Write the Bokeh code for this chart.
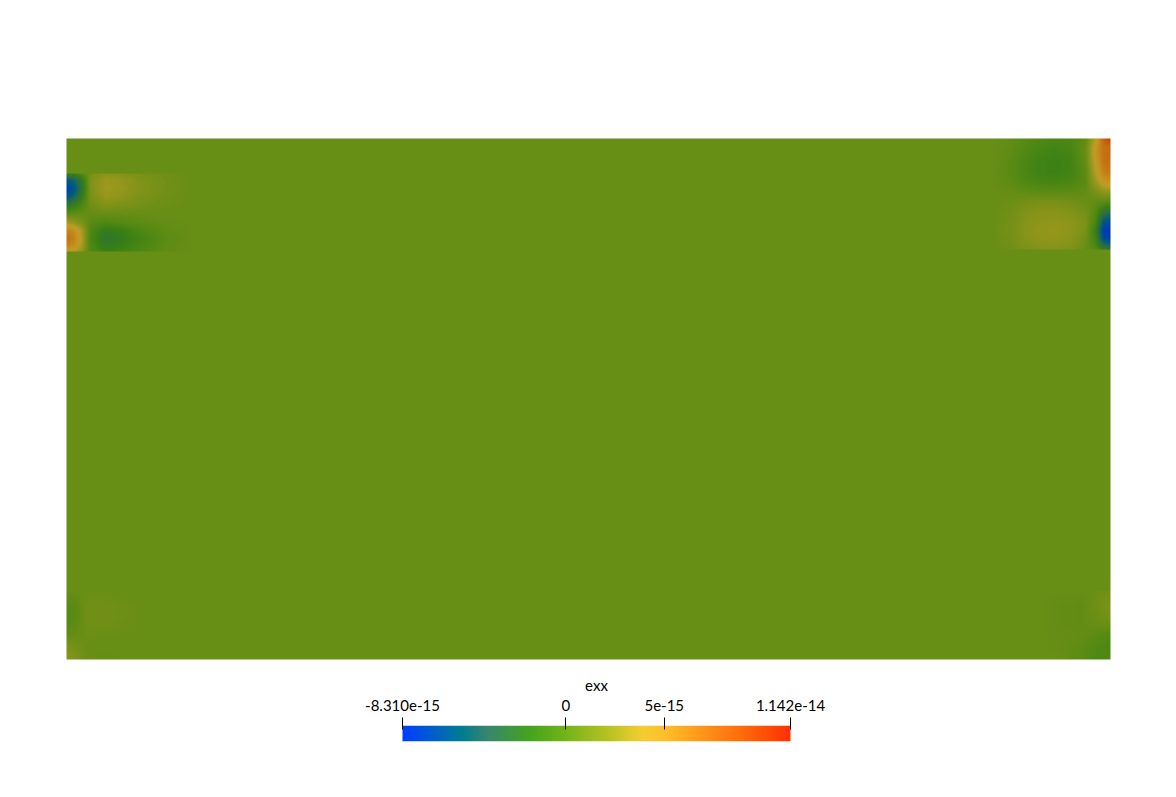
import numpy as np
from bokeh.plotting import figure
from bokeh.models import Range1d, LinearColorMapper, LinearAxis, FixedTicker, CustomJSTickFormatter
from bokeh.core.properties import value
from bokeh.layouts import column
from bokeh.embed import file_html
from bokeh.resources import INLINE

# ---------------- data (values in units of 1e-15) ----------------
field_name = "exx"
value_min = -8.310e-15
value_max = 1.142e-14
tick_values = [-8.310e-15, 0.0, 5e-15, 1.142e-14]
tick_labels = ["-8.310e-15", "0", "5e-15", "1.142e-14"]
unit = 1e-15

domain_x = [0.0, 2.0]
domain_y = [0.0, 1.0]
base_value = 0.6

# top-left band
tl_x = [0.0, 0.012, 0.027, 0.046, 0.075, 0.103, 0.142, 0.19, 0.247]
tl_y = [0.9328, 0.9194, 0.9040, 0.8887, 0.8714, 0.8560, 0.8388, 0.8234, 0.8081, 0.7946, 0.7831]
tl_v = [
    [-2.0, -1.5, -0.5, 1.2, 2.0, 1.8, 1.3, 0.9, 0.6],
    [-6.0, -5.0, -3.0, 1.5, 2.7, 2.4, 1.6, 1.0, 0.6],
    [-7.5, -6.5, -3.5, 1.5, 2.8, 2.5, 1.7, 1.0, 0.6],
    [-6.0, -5.0, -2.5, 1.3, 2.5, 2.2, 1.5, 0.9, 0.6],
    [-2.5, -2.0, -0.8, 0.9, 1.6, 1.4, 1.1, 0.8, 0.6],
    [0.0, 0.2, 0.4, 0.5, 0.6, 0.6, 0.6, 0.6, 0.6],
    [3.0, 2.5, 1.5, 0.0, -0.5, -0.2, 0.2, 0.5, 0.6],
    [6.0, 5.5, 3.5, -0.5, -2.2, -1.7, -0.6, 0.3, 0.6],
    [7.0, 6.5, 4.0, -0.8, -2.7, -2.2, -1.0, 0.1, 0.6],
    [6.0, 5.5, 3.5, -0.5, -2.2, -1.7, -0.8, 0.2, 0.6],
    [4.0, 3.5, 2.5, -0.3, -1.6, -1.2, -0.5, 0.3, 0.6],
]

# top-right band
tr_x = [1.7701, 1.8084, 1.8372, 1.8659, 1.8946, 1.9234, 1.9521, 1.9713, 1.9866, 2.0]
tr_y = [1.0, 0.9846, 0.9674, 0.9520, 0.9347, 0.9155, 0.8964, 0.8772, 0.8580, 0.8388,
        0.8234, 0.8081, 0.7965, 0.7869]
tr_v = [
    [0.6, 0.4, 0.0, -0.5, -0.7, -0.7, 0.2, 3.5, 8.0, 10.0],
    [0.6, 0.3, -0.3, -0.8, -1.0, -0.8, 0.6, 4.5, 7.0, 7.5],
    [0.6, 0.2, -0.5, -1.1, -1.3, -1.1, 0.6, 4.5, 7.0, 7.5],
    [0.6, 0.1, -0.7, -1.3, -1.5, -1.2, 0.4, 4.0, 6.8, 7.2],
    [0.6, 0.1, -0.7, -1.3, -1.5, -1.2, 0.1, 3.5, 6.0, 6.5],
    [0.6, 0.2, -0.4, -0.8, -0.9, -0.7, 0.1, 2.5, 4.5, 5.0],
    [0.6, 0.5, 0.4, 0.2, 0.2, 0.2, 0.4, 1.2, 2.0, 2.0],
    [0.6, 0.8, 1.1, 1.3, 1.3, 1.1, 0.7, 0.3, 0.0, -0.5],
    [0.6, 1.0, 1.6, 1.9, 1.9, 1.7, 1.2, -0.2, -3.0, -4.0],
    [0.6, 1.1, 1.8, 2.2, 2.3, 2.1, 1.5, -0.7, -6.0, -7.0],
    [0.6, 1.2, 1.9, 2.3, 2.4, 2.2, 1.3, -1.7, -7.5, -8.3],
    [0.6, 1.1, 1.8, 2.2, 2.3, 2.0, 1.0, -1.2, -6.5, -7.5],
    [0.6, 1.0, 1.6, 1.9, 2.0, 1.8, 0.7, -0.7, -4.0, -5.0],
    [0.6, 0.9, 1.4, 1.7, 1.8, 1.6, 0.7, -0.2, -2.0, -3.0],
]

# bottom-left corner
bl_x = [0.0, 0.0172, 0.0364, 0.0651, 0.1130, 0.1609]
bl_y = [0.1324, 0.1036, 0.0787, 0.0518, 0.0269, 0.0]
bl_v = [
    [0.6, 0.6, 0.7, 0.7, 0.6, 0.6],
    [-0.1, 0.1, 0.9, 1.0, 0.8, 0.6],
    [-0.2, 0.1, 0.9, 1.0, 0.8, 0.6],
    [0.2, 0.4, 0.8, 0.8, 0.7, 0.6],
    [1.4, 1.1, 0.7, 0.6, 0.6, 0.6],
    [2.1, 1.6, 0.8, 0.5, 0.6, 0.6],
]

# bottom-right corner
br_x = [1.8659, 1.9042, 1.9425, 1.9655, 1.9847, 2.0]
br_y = [0.1324, 0.1036, 0.0749, 0.0461, 0.0211, 0.0]
br_v = [
    [0.6, 0.6, 0.6, 0.7, 0.9, 1.0],
    [0.6, 0.4, 0.3, 0.8, 1.2, 1.4],
    [0.6, 0.4, 0.3, 0.6, 0.9, 1.0],
    [0.6, 0.5, 0.4, 0.2, -0.1, -0.2],
    [0.6, 0.5, 0.2, -0.2, -0.5, -0.5],
    [0.6, 0.6, 0.2, -0.3, -0.5, -0.5],
]

# ---------------- colour map (style) ----------------
cmap_pos = [0.0, 0.08, 0.15, 0.22, 0.33, 0.42, 0.54, 0.62, 0.68, 0.76, 0.88, 1.0]
cmap_rgb = [(0, 62, 255), (0, 95, 200), (0, 125, 145), (55, 135, 105), (70, 165, 28),
            (115, 180, 25), (190, 195, 35), (245, 205, 50), (255, 190, 40),
            (255, 155, 28), (255, 105, 10), (255, 50, 0)]


def make_palette(shade):
    t = np.linspace(0, 1, 256)
    arr = np.array(cmap_rgb, float)
    chans = [np.interp(t, cmap_pos, arr[:, k]) * shade for k in range(3)]
    return ["#%02x%02x%02x" % tuple(int(round(min(255, c[i]))) for c in chans) for i in range(256)]


bar_palette = make_palette(1.0)
surface_palette = make_palette(0.77)

# ---------------- field image ----------------
NX, NY = 1044, 521
xs = domain_x[0] + (np.arange(NX) + 0.5) / NX * (domain_x[1] - domain_x[0])
ys = domain_y[0] + (np.arange(NY) + 0.5) / NY * (domain_y[1] - domain_y[0])
field = np.full((NY, NX), base_value)


def apply_patch(xn, yn, vals):
    xn = np.asarray(xn, float)
    yn = np.asarray(yn, float)
    v = np.asarray(vals, float)
    order = np.argsort(yn)
    yn, v = yn[order], v[order]
    ix = np.where((xs >= xn.min()) & (xs <= xn.max()))[0]
    iy = np.where((ys >= yn.min()) & (ys <= yn.max()))[0]
    rows = np.array([np.interp(xs[ix], xn, r) for r in v])
    sub = np.array([np.interp(ys[iy], yn, rows[:, j]) for j in range(len(ix))]).T
    field[np.ix_(iy, ix)] = sub


for px, py, pv in [(tl_x, tl_y, tl_v), (tr_x, tr_y, tr_v), (bl_x, bl_y, bl_v), (br_x, br_y, br_v)]:
    apply_patch(px, py, pv)

field_values = field * unit

surface_mapper = LinearColorMapper(palette=surface_palette, low=value_min, high=value_max)
bar_mapper = LinearColorMapper(palette=bar_palette, low=value_min, high=value_max)

W = 1176


def bare(fig):
    fig.grid.visible = False
    fig.outline_line_color = None
    fig.background_fill_color = "white"
    fig.border_fill_color = "white"


# ---------------- main figure ----------------
sx = 522.0
sy = 521.0
p = figure(width=W, height=660, output_backend="svg", toolbar_location=None,
           x_range=Range1d(domain_x[0] - 66 / sx, domain_x[1] + 66 / sx),
           y_range=Range1d(domain_y[0] - 1 / sy, domain_y[1] + 138 / sy),
           x_axis_location=None, y_axis_location=None, min_border=0)
bare(p)
p.image(image=[field_values], x=domain_x[0], y=domain_y[0],
        dw=domain_x[1] - domain_x[0], dh=domain_y[1] - domain_y[0],
        color_mapper=surface_mapper)

# ---------------- colour bar ----------------
bar_left, bar_right = 402, 790
scale = (bar_right - bar_left) / (value_max - value_min)
bar_xrange = (value_min - bar_left / scale, value_max + (W - bar_right) / scale)

# title strip
tf = figure(width=W, height=32, output_backend="svg", toolbar_location=None,
            x_range=Range1d(*bar_xrange), y_range=Range1d(0, 32),
            x_axis_location=None, y_axis_location=None, min_border=0)
bare(tf)
tf.text(x=[(value_min + value_max) / 2], y=[8], text=[field_name],
        text_font=value("Lato"), text_font_size="15px", text_color="black",
        text_align="center", text_baseline="middle")

cb = figure(width=W, height=105, output_backend="svg", toolbar_location=None,
            x_range=Range1d(*bar_xrange), y_range=Range1d(0, 1),
            x_axis_location=None, y_axis_location=None,
            min_border_left=0, min_border_right=0, min_border_top=33, min_border_bottom=56)
bare(cb)
ramp = np.linspace(value_min, value_max, 388)[None, :]
cb.image(image=[ramp], x=value_min, y=0, dw=value_max - value_min, dh=1, color_mapper=bar_mapper)

ax = LinearAxis(ticker=FixedTicker(ticks=tick_values),
                formatter=CustomJSTickFormatter(args=dict(labels=tick_labels), code="return labels[index]"))
ax.axis_line_color = None
ax.major_tick_line_color = "black"
ax.major_tick_line_width = 1
ax.major_tick_out = 8
ax.major_tick_in = 4
ax.minor_tick_line_color = None
ax.major_label_text_font = "Lato"
ax.major_label_text_font_size = "15px"
ax.major_label_text_color = "black"
ax.major_label_standoff = 7
cb.add_layout(ax, "above")

layout = column(p, tf, cb, spacing=0)
open("out.html", "w").write(file_html(layout, INLINE))
